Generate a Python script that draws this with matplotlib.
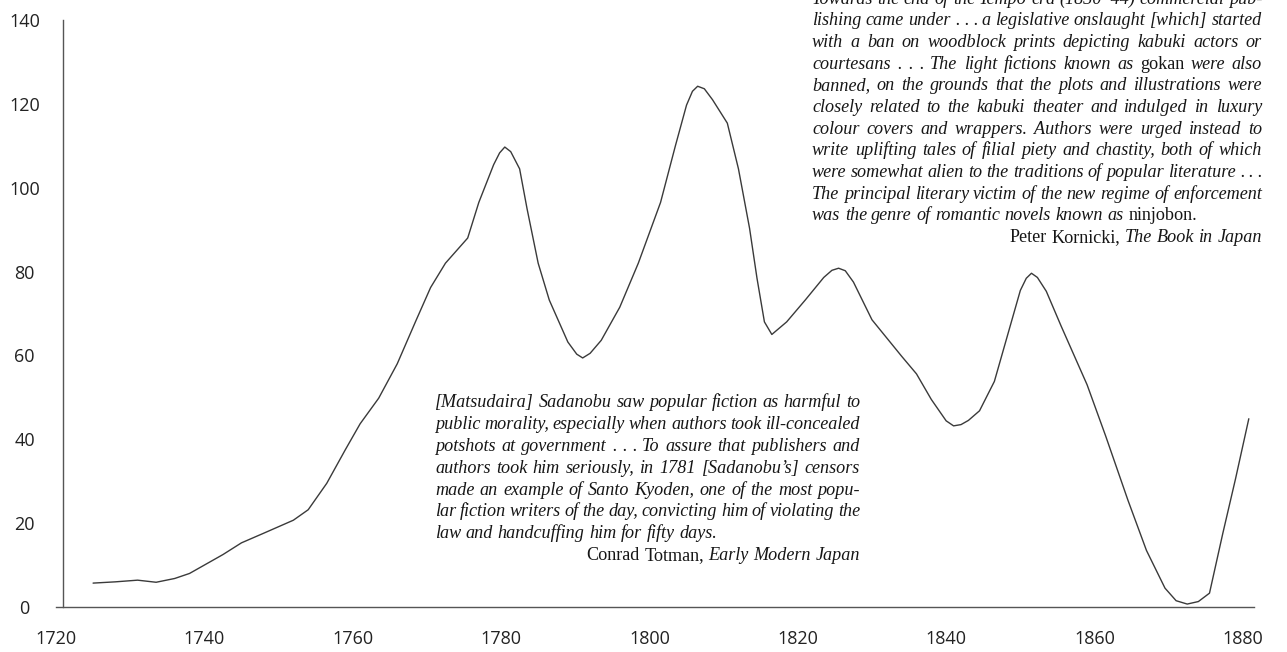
import matplotlib
matplotlib.use('Agg')
import matplotlib.pyplot as plt

# curve (year, titles)
years = [1725, 1728, 1731, 1733.5, 1736, 1738, 1740, 1742.5, 1745, 1748,
         1752, 1754, 1756.5, 1759, 1761, 1763.5, 1766, 1768.5, 1770.5, 1772.5,
         1775.5, 1777, 1779, 1779.8, 1780.5, 1781.3, 1782.5, 1783.5, 1785, 1786.5,
         1789, 1790.2, 1791, 1792, 1793.5, 1796, 1798.5, 1801.5, 1803.5, 1805,
         1805.8, 1806.5, 1807.4, 1808.5, 1810.5, 1812, 1813.5, 1814.5, 1815.5, 1816.5,
         1818.5, 1821, 1823.5, 1824.6, 1825.5, 1826.4, 1827.5, 1830, 1834, 1836,
         1838, 1840, 1841, 1842, 1843, 1844.5, 1846.5, 1848.5, 1850, 1850.8,
         1851.5, 1852.3, 1853.5, 1855.5, 1859, 1861.5, 1864.5, 1867, 1869.5, 1871,
         1872.5, 1874, 1875.5, 1877.3, 1879, 1880.8]
titles = [5.7, 6.0, 6.4, 5.9, 6.8, 8.0, 10.0, 12.5, 15.3, 17.6,
          20.7, 23.2, 29.5, 37.5, 43.7, 49.8, 58.0, 68.2, 76.2, 82.0,
          88.0, 96.5, 105.5, 108.3, 109.7, 108.6, 104.5, 95.0, 82.0, 73.2,
          63.2, 60.3, 59.4, 60.5, 63.6, 71.5, 82.0, 96.5, 110.0, 119.7,
          123.0, 124.2, 123.6, 121.0, 115.4, 104.5, 90.3, 78.4, 68.0, 65.0,
          68.0, 73.2, 78.6, 80.3, 80.8, 80.2, 77.5, 68.5, 59.8, 55.6,
          49.5, 44.4, 43.2, 43.5, 44.5, 46.8, 53.8, 66.2, 75.5, 78.4,
          79.6, 78.6, 75.3, 67.0, 53.0, 40.8, 25.5, 13.5, 4.5, 1.5,
          0.7, 1.3, 3.3, 17.6, 30.5, 44.9]

x_ticks = [1720, 1740, 1760, 1780, 1800, 1820, 1840, 1860, 1880]
y_ticks = [0, 20, 40, 60, 80, 100, 120, 140]

quote_kornicki = [
    "Towards the end of the Tempo era (1830\u201344) commercial pub-",
    "lishing came under . . . a legislative onslaught [which] started",
    "with a ban on woodblock prints depicting kabuki actors or",
    "courtesans . . . The light fictions known as gokan were also",
    "banned, on the grounds that the plots and illustrations were",
    "closely related to the kabuki theater and indulged in luxury",
    "colour covers and wrappers. Authors were urged instead to",
    "write uplifting tales of filial piety and chastity, both of which",
    "were somewhat alien to the traditions of popular literature . . .",
    "The principal literary victim of the new regime of enforcement",
    "was the genre of romantic novels known as ninjobon.",
    "Peter Kornicki, The Book in Japan",
]
quote_totman = [
    "[Matsudaira] Sadanobu saw popular fiction as harmful to",
    "public morality, especially when authors took ill-concealed",
    "potshots at government . . . To assure that publishers and",
    "authors took him seriously, in 1781 [Sadanobu\u2019s] censors",
    "made an example of Santo Kyoden, one of the most popu-",
    "lar fiction writers of the day, convicting him of violating the",
    "law and handcuffing him for fifty days.",
    "Conrad Totman, Early Modern Japan",
]
roman_words = {'gokan', 'ninjobon.', 'Peter', 'Kornicki,', 'Conrad', 'Totman,'}

W, H = 1287, 652
SERIF = 'Liberation Serif'


def word_text(fig, x, y, word, size):
    style = 'normal' if word in roman_words else 'italic'
    return fig.text(x / W, 1 - y / H, word, fontsize=size, family=SERIF,
                    style=style, color='#161616', ha='left', va='baseline')


def draw_block(fig, lines, left, right, top, step, size):
    # justified paragraph, last line ragged, attribution flush right
    renderer = fig.canvas.get_renderer()
    space = 0.25 * size * fig.dpi / 72
    for i, line in enumerate(lines):
        y = top + i * step
        words = line.split()
        widths = []
        for w in words:
            t = word_text(fig, 0, 0, w, size)
            widths.append(t.get_window_extent(renderer).width)
            t.remove()
        if i == len(lines) - 1:
            gap = space
            x = right - sum(widths) - gap * (len(words) - 1)
        elif i == len(lines) - 2:
            gap = space
            x = left
        else:
            gap = (right - left - sum(widths)) / (len(words) - 1)
            x = left
        for w, wd in zip(words, widths):
            word_text(fig, x, y, w, size)
            x += wd + gap


def graphic():
    fig = plt.figure(figsize=(W / 100, H / 100), dpi=100)
    ax = fig.add_axes([56 / W, 45 / H, 1198 / W, 587 / H])

    ax.plot(years, titles, color='#3a3a3a', linewidth=1.0,
            solid_joinstyle='round', solid_capstyle='round')

    ax.set_xlim(1720, 1881.5)
    ax.set_ylim(0, 139.5)
    ax.set_xticks(x_ticks)
    ax.set_yticks(y_ticks)
    for s in ['top', 'right']:
        ax.spines[s].set_visible(False)
    for s in ['left', 'bottom']:
        ax.spines[s].set_color('#555555')
        ax.spines[s].set_linewidth(1.0)
    ax.spines['left'].set_position(('data', 1721))
    ax.tick_params(axis='both', length=0, labelsize=13, labelcolor='#222222')
    ax.tick_params(axis='y', pad=28)
    ax.tick_params(axis='x', pad=16.5)
    for lab in ax.get_yticklabels():
        lab.set_horizontalalignment('center')
        lab.set_family('Open Sans')
    for lab in ax.get_xticklabels():
        lab.set_family('Open Sans')

    draw_block(fig, quote_kornicki, 812, 1262, 3.5, 21.7, 13.1)
    draw_block(fig, quote_totman, 435, 860, 407, 21.9, 13.1)

    fig.savefig('out.png', dpi=100)


if __name__ == '__main__':
    graphic()
